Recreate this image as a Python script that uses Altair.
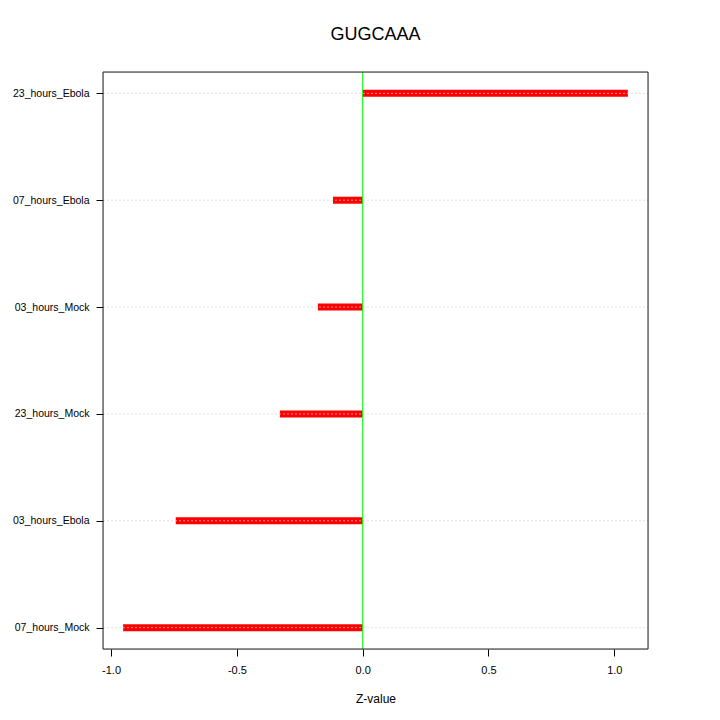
import altair as alt
import pandas as pd

categories = ["23_hours_Ebola", "07_hours_Ebola", "03_hours_Mock",
              "23_hours_Mock", "03_hours_Ebola", "07_hours_Mock"]
values = [1.054, -0.118, -0.178, -0.329, -0.743, -0.952]
x_ticks = [-1.0, -0.5, 0.0, 0.5, 1.0]
title_text = "GUGCAAA"
x_title = "Z-value"

n = len(categories)
positions = [n - i for i in range(n)]
df = pd.DataFrame({"cat": categories, "val": values, "pos": positions, "zero": [0.0] * n})

W, H = 545, 577
FONT = "Liberation Sans"

label_arr = "[''," + ",".join("'" + c + "'" for c in reversed(categories)) + "]"

xscale = alt.Scale(domain=[-1.032, 1.134], nice=False, zero=False)
yscale = alt.Scale(domain=[0.8, n + 0.2], nice=False, zero=False)

xaxis = alt.Axis(values=x_ticks, title=x_title, grid=False, domain=False,
                 tickSize=7, tickColor="#000", labelFontSize=11, labelColor="#000",
                 labelFont=FONT, titleFont=FONT, titleFontSize=12, titleFontWeight="normal",
                 titleColor="#000", labelPadding=8, titlePadding=18,
                 labelExpr="replace(format(datum.value, '.1f'), '\u2212', '-')")
yaxis = alt.Axis(values=positions, title=None, grid=False, domain=False,
                 tickSize=7, tickColor="#000", labelFontSize=10.5, labelColor="#000",
                 labelFont=FONT, labelPadding=7,
                 labelExpr=label_arr + "[datum.value]")

bars = alt.Chart(df).mark_rule(color="#FF0000", strokeWidth=7, strokeCap="butt").encode(
    x=alt.X("zero:Q", scale=xscale, axis=xaxis),
    x2="val:Q",
    y=alt.Y("pos:Q", scale=yscale, axis=yaxis),
)

grid = alt.Chart(df).mark_rule(color="#d3d3d3", strokeWidth=1, strokeDash=[2, 2], opacity=0.7).encode(
    x=alt.value(0), x2=alt.value(W),
    y=alt.Y("pos:Q", scale=yscale),
)

vline = alt.Chart(pd.DataFrame({"z": [0.0]})).mark_rule(color="#00FF00", strokeWidth=1).encode(
    x=alt.X("z:Q", scale=xscale),
)

frame = alt.Chart(pd.DataFrame({"a": [0]})).mark_rect(fill=None, stroke="#222", strokeWidth=1).encode(
    x=alt.value(0), x2=alt.value(W), y=alt.value(0), y2=alt.value(H),
)

chart = alt.layer(bars, grid, vline, frame).properties(
    width=W, height=H,
    title=alt.TitleParams(title_text, fontSize=18, fontWeight="normal", font=FONT,
                          color="#000", anchor="middle", offset=28),
    autosize=alt.AutoSizeParams(type="none"),
    padding={"left": 95, "top": 64, "right": 64, "bottom": 63},
).configure_view(strokeWidth=0).configure(background="white")

chart.save("out.html", embed_options={"renderer": "svg", "actions": False})
